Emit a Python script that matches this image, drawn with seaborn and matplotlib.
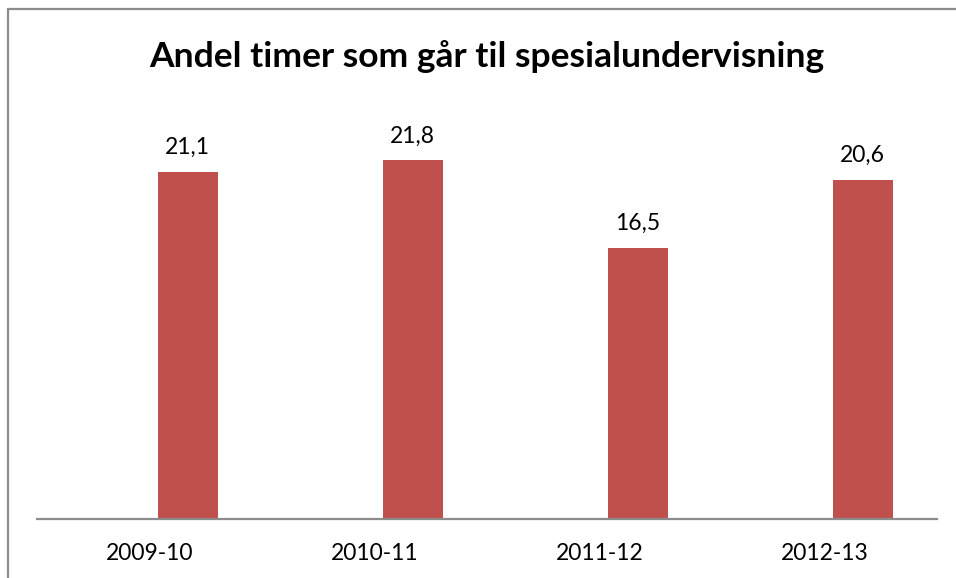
import matplotlib
matplotlib.use("Agg")
import matplotlib.pyplot as plt
from matplotlib.lines import Line2D
import seaborn as sns
import pandas as pd

# Share of teaching hours spent on special education, per school year
school_years = ["2009-10", "2010-11", "2011-12", "2012-13"]
share_pct = [21.1, 21.8, 16.5, 20.6]
title = "Andel timer som går til spesialundervisning"

BAR_COLOR = "#C0504D"
FRAME_COLOR = "#8C8C8C"
W, H = 956, 578

sns.set_theme(style="white")
plt.rcParams["font.family"] = ["Lato", "DejaVu Sans"]

df = pd.DataFrame({"year": school_years, "share": share_pct})

fig = plt.figure(figsize=(W / 100, H / 100), dpi=100)
fig.patch.set_facecolor("white")

# plot area: category axis from x=37 to x=937, baseline at y=519
ax_left, ax_right = 37, 937
ax_bottom, ax_top = 519, 20
ax = fig.add_axes([ax_left / W, (H - ax_bottom) / H,
                   (ax_right - ax_left) / W, (ax_bottom - ax_top) / H])

sns.barplot(data=df, x="year", y="share", color=BAR_COLOR, saturation=1,
            width=60 / 225, ax=ax)

# bars sit a little right of the category centre
for p in ax.patches:
    p.set_x(p.get_x() + 0.169)
    p.set_edgecolor("none")

ax.set_xlim(-0.5, len(school_years) - 0.5)
ax.set_ylim(0, (ax_bottom - ax_top) / 16.45)

labels = [f"{v:.1f}".replace(".", ",") for v in share_pct]
ax.bar_label(ax.containers[0], labels=labels, padding=10,
             fontsize=16.5, color="black")

ax.set_xlabel("")
ax.set_ylabel("")
ax.set_yticks([])
ax.tick_params(axis="x", length=0, pad=17, labelsize=16.5, labelcolor="black")
for side in ["top", "right", "left"]:
    ax.spines[side].set_visible(False)
ax.spines["bottom"].set_color(FRAME_COLOR)
ax.spines["bottom"].set_linewidth(1.6)
ax.patch.set_alpha(0)

fig.text(487 / W, 1 - 57 / H, title, ha="center", va="center",
         fontsize=25.5, fontweight="bold", color="black")

# chart frame (top and left edges)
fx = 7.5 / W
fy = 1 - 9 / H
fig.add_artist(Line2D([fx, 1], [fy, fy], transform=fig.transFigure,
                      color=FRAME_COLOR, lw=1.6))
fig.add_artist(Line2D([fx, fx], [0, fy], transform=fig.transFigure,
                      color=FRAME_COLOR, lw=1.6))

fig.savefig("out.png", dpi=100, facecolor="white")
